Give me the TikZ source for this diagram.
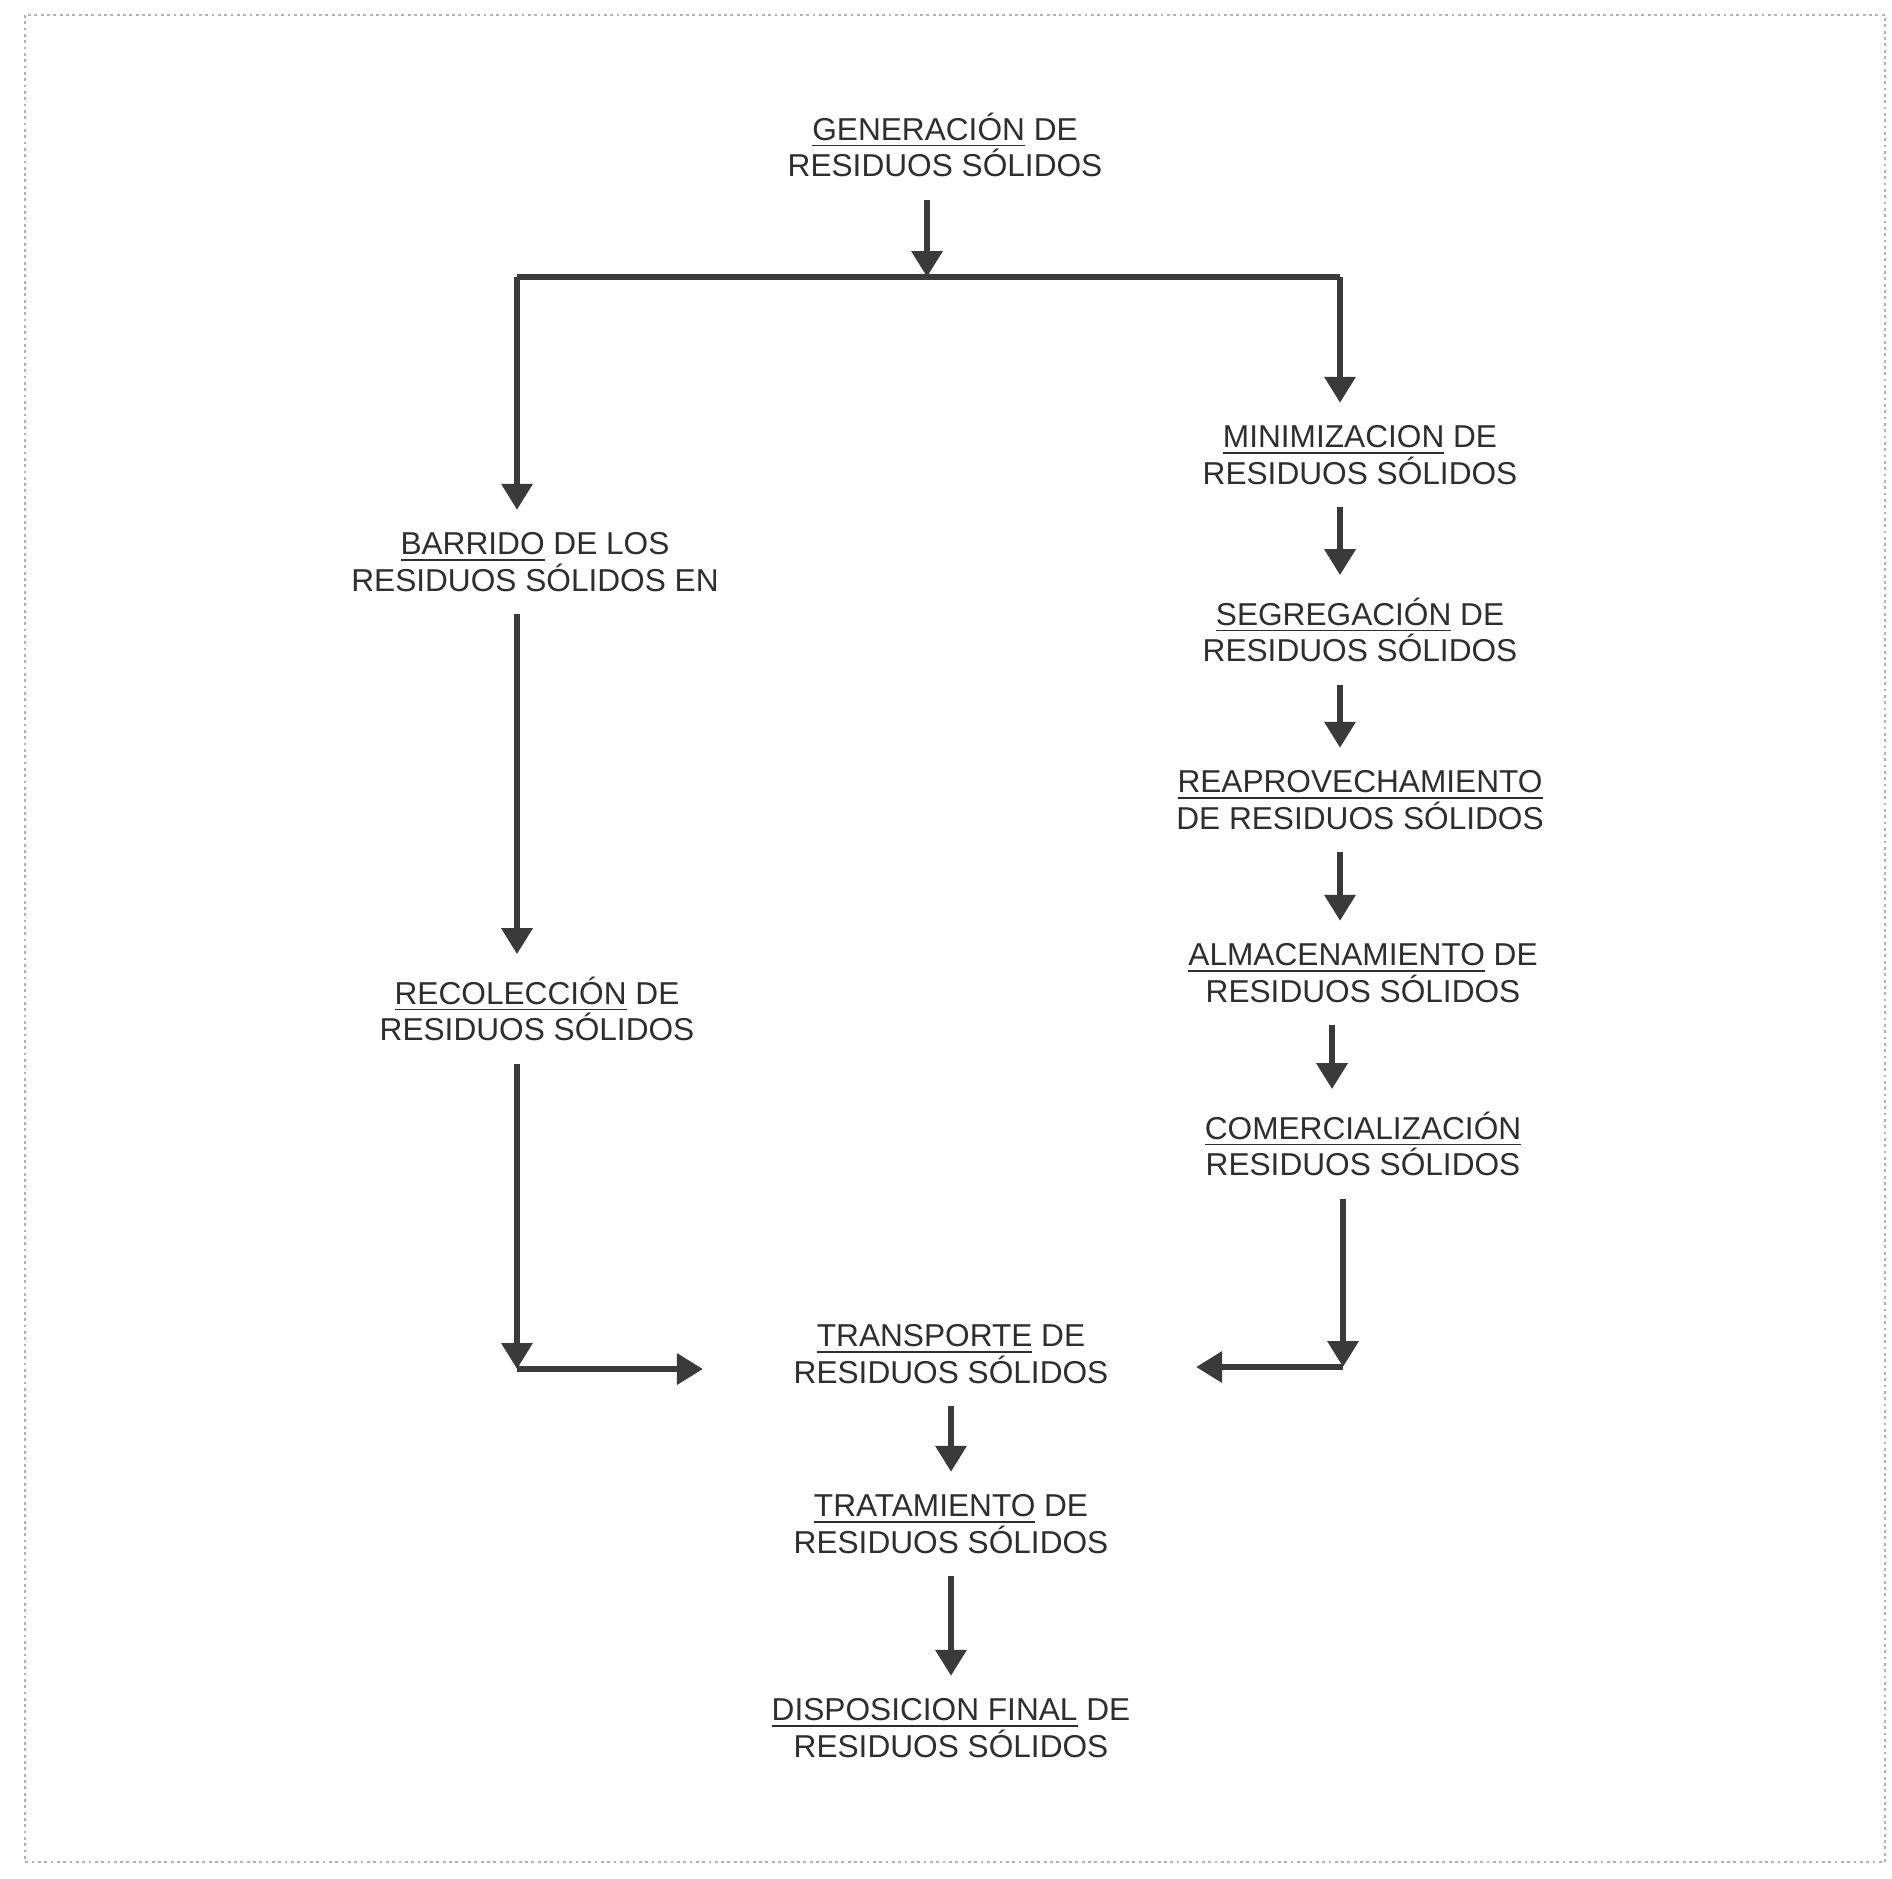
\documentclass[tikz,border=0pt]{standalone}
\usepackage{fontspec}
\setmainfont{Liberation Sans}
\usepackage{tikz}
\usetikzlibrary{positioning,arrows.meta,calc}
\definecolor{tinta}{HTML}{3A3A3A}
\definecolor{texto}{HTML}{2E2E2E}
\newcommand{\subraya}[1]{\underline{#1}}
\tikzset{
  paso/.style ={align=center, text=texto, inner xsep=0pt, inner ysep=2.2mm, font=\fontsize{9}{10.4}\selectfont},
  flecha/.style={-{Triangle[width=3mm,length=2.6mm]}, line width=1.8pt, draw=tinta},
  linea/.style ={line width=1.8pt, draw=tinta},
  marco/.style ={draw=black!30, densely dotted, line width=0.8pt},
}
\begin{document}
\begin{tikzpicture}
  \useasboundingbox (0,0) rectangle (18.92,-18.78);
  \draw[marco] (0.25,-0.15) rectangle (18.85,-18.62);
  % nodos
  \node[paso] (gen)  at (9.45,-1.45)  {\subraya{GENERACIÓN} DE\\RESIDUOS SÓLIDOS};
  \node[paso] (barr) at (5.35,-5.62)  {\subraya{BARRIDO} DE LOS\\RESIDUOS SÓLIDOS EN};
  \node[paso] (reco) at (5.37,-10.09) {\subraya{RECOLECCIÓN} DE\\RESIDUOS SÓLIDOS};
  \node[paso] (mini) at (13.60,-4.55) {\subraya{MINIMIZACION} DE\\RESIDUOS SÓLIDOS};
  \node[paso] (segr) at (13.60,-6.30) {\subraya{SEGREGACIÓN} DE\\RESIDUOS SÓLIDOS};
  \node[paso] (reap) at (13.60,-8.00) {\subraya{REAPROVECHAMIENTO}\\DE RESIDUOS SÓLIDOS};
  \node[paso] (alma) at (13.63,-9.73) {\subraya{ALMACENAMIENTO} DE\\RESIDUOS SÓLIDOS};
  \node[paso] (come) at (13.63,-11.44) {\subraya{COMERCIALIZACIÓN}\\RESIDUOS SÓLIDOS};
  \node[paso] (trans) at (9.51,-13.54) {\subraya{TRANSPORTE} DE\\RESIDUOS SÓLIDOS};
  \node[paso] (trat) at (9.51,-15.24) {\subraya{TRATAMIENTO} DE\\RESIDUOS SÓLIDOS};
  \node[paso] (disp) at (9.51,-17.28) {\subraya{DISPOSICION FINAL} DE\\RESIDUOS SÓLIDOS};
  % ramales
  \coordinate (ramal) at (9.27,-2.77);
  \coordinate (izq) at (5.17,-2.77);
  \coordinate (der) at (13.40,-2.77);
  \coordinate (esqizq) at (5.17,-13.69);
  \coordinate (esqder) at (13.43,-13.67);
  \draw[flecha] (gen.south -| ramal) -- (ramal);
  \draw[linea] (izq) -- (der);
  \draw[flecha] (izq) -- (barr.north -| izq);
  \draw[flecha] (der) -- (mini.north -| der);
  % columna izquierda
  \draw[flecha] (barr.south -| izq) -- (reco.north -| izq);
  \draw[flecha] (reco.south -| izq) -- (esqizq);
  \draw[flecha, shorten >=9mm] (esqizq) -- (trans.west |- esqizq);
  % columna derecha
  \draw[flecha] (mini.south -| der) -- (segr.north -| der);
  \draw[flecha] (segr.south -| der) -- (reap.north -| der);
  \draw[flecha] (reap.south -| der) -- (alma.north -| der);
  \draw[flecha] ($(alma.south -| der)+(-0.08,0)$) -- ($(come.north -| der)+(-0.08,0)$);
  \draw[flecha] (come.south -| esqder) -- (esqder);
  \draw[flecha, shorten >=8.7mm] (esqder) -- (trans.east |- esqder);
  % tramo final
  \draw[flecha] (trans) -- (trat);
  \draw[flecha] (trat) -- (disp);
\end{tikzpicture}
\end{document}
